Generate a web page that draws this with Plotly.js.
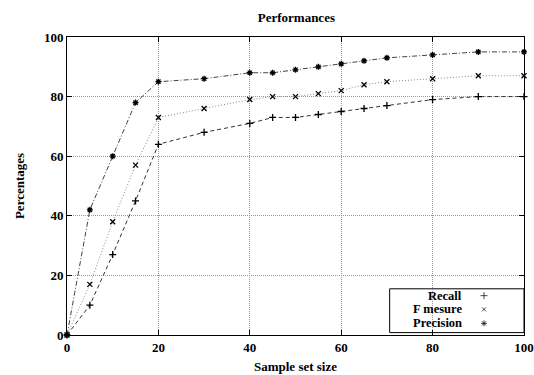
<!DOCTYPE html>
<html><head><meta charset="utf-8">
<script src="https://cdn.plot.ly/plotly-3.0.1.min.js"></script>
<style>html,body{margin:0;padding:0;background:#fff}</style>
</head><body><div id="chart" style="width:534px;height:375px"></div>
<script>
const sampleSize = [0,5,10,15,20,30,40,45,50,55,60,65,70,80,90,100];
const recall     = [0,10,27,45,64,68,71,73,73,74,75,76,77,79,80,80];
const fMesure    = [0,17,38,57,73,76,79,80,80,81,82,84,85,86,87,87];
const precision  = [0,42,60,78,85,86,88,88,89,90,91,92,93,94,95,95];
const seriesNames = ["Recall","F mesure","Precision"];
const tickVals = [0,20,40,60,80,100];

const font = {family:"Liberation Serif", size:13, color:"#000", weight:"bold"};
const legendFont = {...font, size:12.5};
const styles = [
  {dash:"4px,3px", color:"#333", symbol:"cross-thin-open", msize:5},
  {dash:"1px,2px", color:"#888", symbol:"x-thin-open", msize:5},
  {dash:"5px,2px,1px,2px", color:"#444", symbol:"asterisk-open", msize:5}
];
const ys = [recall, fMesure, precision];
const traces = ys.map((y,i)=>({
  x: sampleSize, y: y, type:"scatter", mode:"lines+markers", name: seriesNames[i],
  line:{dash:styles[i].dash, color:styles[i].color, width:1},
  marker:{symbol:styles[i].symbol, size:styles[i].msize, color:"#000", line:{color:"#000", width:1.3}},
  showlegend:false, cliponaxis:false
}));
// legend symbols on a small helper axis inside the legend box
const legendRowY = [0.132, 0.086, 0.039];
traces.push({
  x:[0.5,0.5,0.5], y:legendRowY, xaxis:"x2", yaxis:"y2", type:"scatter", mode:"markers",
  marker:{symbol:styles.map(s=>s.symbol), size:[5,4,5], color:"#000", line:{color:"#000", width:1}},
  showlegend:false, hoverinfo:"skip", cliponaxis:false
});

const axisCommon = {
  showline:true, mirror:"ticks", linecolor:"#000", linewidth:1,
  ticks:"inside", ticklen:5, tickcolor:"#000",
  showgrid:true, gridcolor:"#999", griddash:"1px,1px", gridwidth:1,
  zeroline:false, tickfont:font, tickvals:tickVals
};
const layout = {
  width:534, height:375,
  margin:{l:67, r:10, t:37, b:40},
  paper_bgcolor:"#fff", plot_bgcolor:"#fff",
  title:{text:"Performances", font:font, x:0.555, xanchor:"center", y:0.953, yanchor:"middle"},
  xaxis:{...axisCommon, range:[0,100], title:{text:"Sample set size", font:font, standoff:8}},
  yaxis:{...axisCommon, range:[0,100], title:{text:"Percentages", font:font, standoff:16}},
  xaxis2:{range:[0,1], visible:false, anchor:"y2", domain:[0.9,0.925]},
  yaxis2:{range:[0.01,0.15], visible:false, anchor:"x2", domain:[0.01,0.15]},
  shapes:[{type:"rect", xref:"paper", yref:"paper", x0:0.706, x1:1.0, y0:0.008, y1:0.155,
           line:{color:"#000", width:1}, fillcolor:"#fff", layer:"between"}],
  annotations: seriesNames.map((n,i)=>({
    text:n, xref:"paper", yref:"paper", x:0.869, y:legendRowY[i],
    xanchor:"right", yanchor:"middle", showarrow:false, font:legendFont
  })),
  showlegend:false
};
Plotly.newPlot("chart", traces, layout, {displayModeBar:false, staticPlot:true});
</script></body></html>
